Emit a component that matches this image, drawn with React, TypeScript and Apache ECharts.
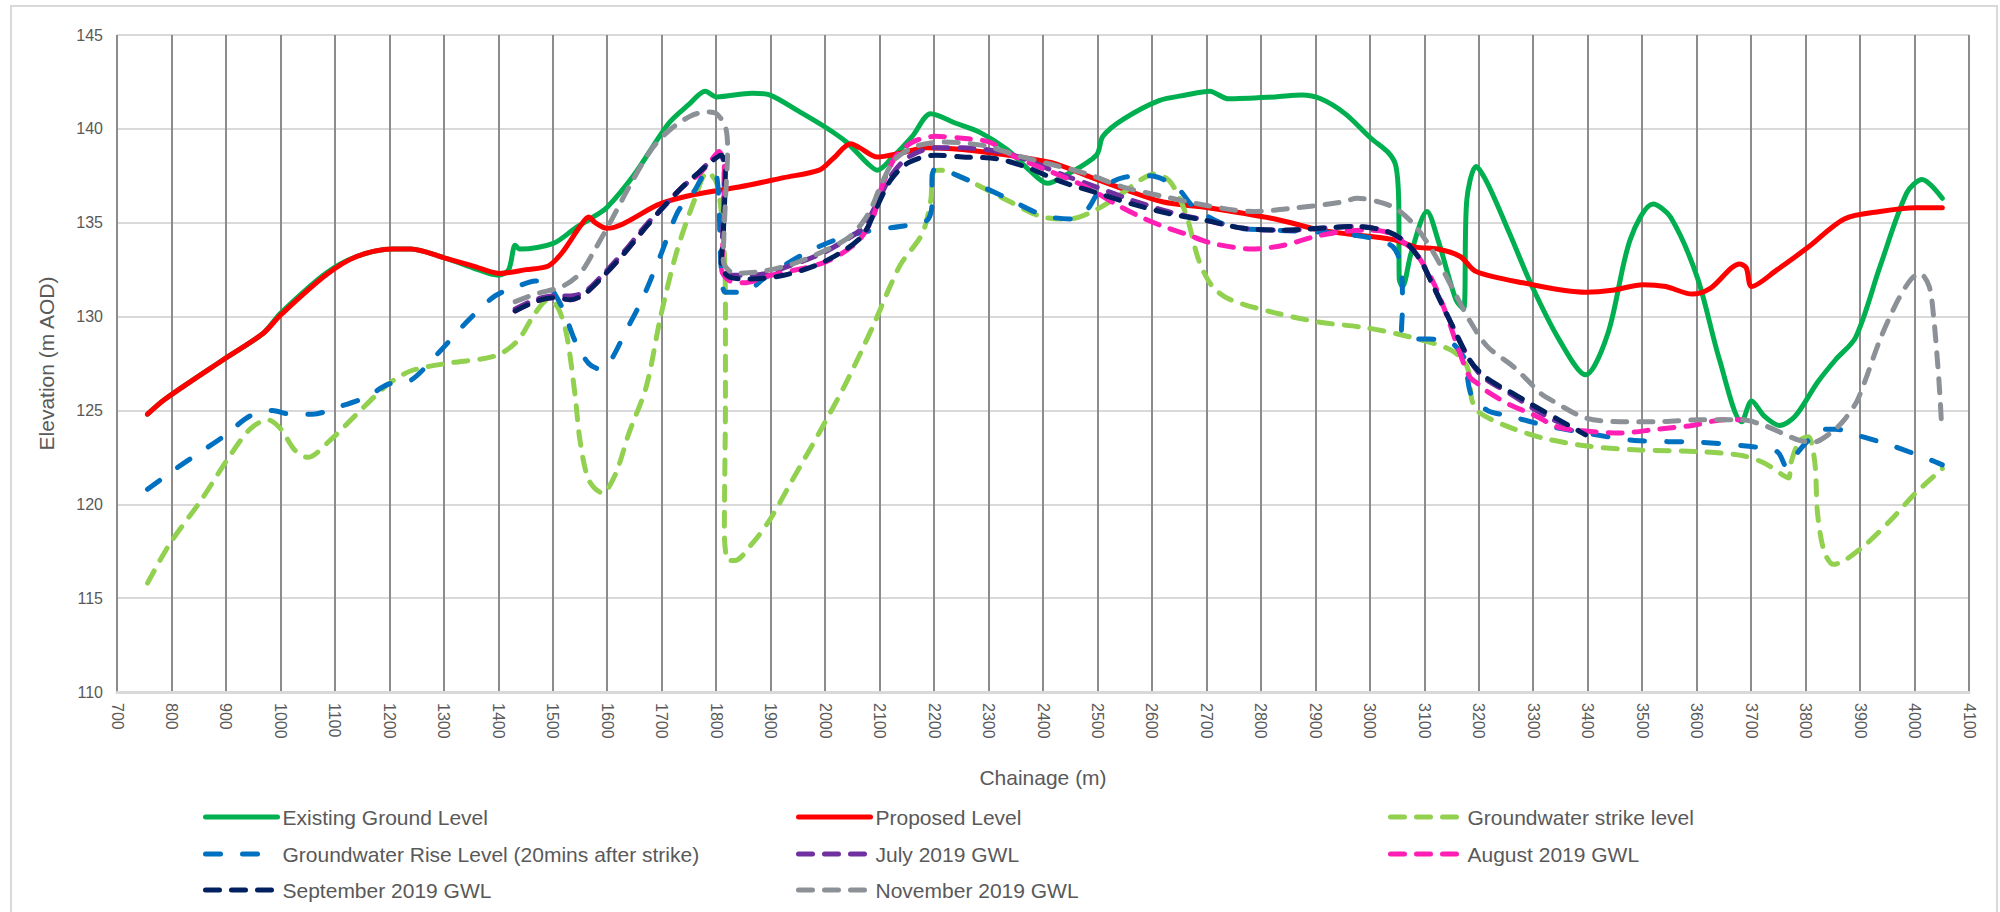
import React, { useEffect, useRef } from "react";
import * as echarts from "echarts";

type P = [number, number];

const seriesNames = [
  "Existing Ground Level",
  "Proposed Level",
  "Groundwater strike level",
  "Groundwater Rise Level (20mins after strike)",
  "July 2019 GWL",
  "August 2019 GWL",
  "September 2019 GWL",
  "November 2019 GWL",
];

const existingGround: P[] = [
  [756, 124.8], [788, 125.6], [895, 127.7], [968, 129.1], [1001, 130.2], [1083, 132.3], [1140, 133.2],
  [1206, 133.6], [1239, 133.6], [1304, 133.1], [1353, 132.6], [1400, 132.2], [1419, 132.5], [1431, 133.8],
  [1439, 133.6], [1501, 133.9], [1541, 134.7], [1574, 135.3], [1599, 135.8], [1648, 137.5], [1713, 140.3],
  [1750, 141.3], [1780, 142.0], [1801, 141.7], [1866, 141.9], [1899, 141.8], [1948, 141.0], [2000, 140.1],
  [2039, 139.3], [2080, 138.1], [2096, 137.8], [2121, 138.4], [2160, 139.6], [2194, 140.8], [2240, 140.3],
  [2285, 139.8], [2334, 138.9], [2375, 137.8], [2408, 137.1], [2440, 137.5], [2498, 138.6], [2510, 139.6],
  [2547, 140.5], [2613, 141.5], [2662, 141.8], [2707, 142.0], [2723, 141.8], [2740, 141.6], [2826, 141.7],
  [2875, 141.8], [2910, 141.6], [2955, 140.8], [3002, 139.5], [3035, 138.7], [3048, 138.0], [3053, 136.2],
  [3054, 132.0], [3060, 131.6], [3076, 133.4], [3105, 135.6], [3125, 134.1], [3158, 130.9], [3172, 130.4],
  [3178, 136.2], [3195, 138.0], [3216, 137.1], [3257, 134.4], [3298, 131.6], [3347, 128.8], [3396, 126.9],
  [3437, 129.1], [3478, 134.1], [3520, 136.0], [3552, 135.3], [3601, 132.1], [3642, 127.7], [3683, 124.4],
  [3701, 125.5], [3724, 124.7], [3752, 124.2], [3781, 124.7], [3822, 126.5], [3855, 127.7], [3892, 128.9],
  [3937, 132.7], [3986, 136.6], [4014, 137.3], [4051, 136.3],
];

const proposedLevel: P[] = [
  [756, 124.8], [788, 125.6], [895, 127.7], [968, 129.1], [1001, 130.1], [1083, 132.2], [1140, 133.2],
  [1206, 133.6], [1239, 133.6], [1304, 133.1], [1353, 132.7], [1402, 132.3], [1451, 132.5], [1492, 132.7],
  [1517, 133.4], [1550, 134.8], [1566, 135.3], [1578, 135.0], [1599, 134.7], [1697, 136.0], [1760, 136.5],
  [1842, 136.9], [1924, 137.4], [1989, 137.8], [2014, 138.4], [2047, 139.2], [2063, 139.0], [2096, 138.5],
  [2137, 138.7], [2186, 139.0], [2252, 138.9], [2334, 138.6], [2416, 138.2], [2481, 137.5], [2547, 136.8],
  [2621, 136.1], [2703, 135.8], [2826, 135.2], [2910, 134.6], [2960, 134.4], [3043, 134.1], [3084, 133.7],
  [3125, 133.6], [3166, 133.2], [3195, 132.4], [3281, 131.8], [3396, 131.3], [3445, 131.4], [3502, 131.7],
  [3543, 131.6], [3592, 131.2], [3625, 131.5], [3679, 132.8], [3691, 132.6], [3701, 131.6], [3748, 132.5],
  [3805, 133.7], [3871, 135.2], [3937, 135.6], [4002, 135.8], [4051, 135.8],
];

const strikeLevel: P[] = [
  [756, 115.8], [797, 117.9], [854, 120.2], [903, 122.4], [944, 124.0], [977, 124.5], [1001, 124.0],
  [1026, 122.9], [1050, 122.5], [1091, 123.4], [1140, 124.8], [1198, 126.4], [1239, 127.1], [1304, 127.5],
  [1394, 127.9], [1435, 128.7], [1468, 130.2], [1492, 130.9], [1509, 130.5], [1525, 129.1], [1541, 125.8],
  [1550, 123.4], [1566, 121.3], [1591, 120.6], [1615, 121.6], [1640, 123.8], [1672, 126.3], [1698, 130.0],
  [1727, 133.4], [1760, 136.2], [1784, 137.7], [1801, 137.1], [1813, 134.4], [1817, 130.8], [1817, 125.6],
  [1815, 118.5], [1822, 117.0], [1834, 117.0], [1866, 117.9], [1899, 119.2], [1940, 121.3], [1989, 123.8],
  [2039, 126.5], [2088, 129.5], [2137, 132.7], [2178, 134.4], [2194, 136.2], [2198, 137.7], [2211, 137.8],
  [2252, 137.4], [2334, 136.2], [2400, 135.3], [2449, 135.2], [2498, 135.7], [2547, 136.6], [2580, 137.3],
  [2604, 137.6], [2633, 137.2], [2662, 135.5], [2686, 133.0], [2711, 131.6], [2744, 130.9], [2826, 130.2],
  [2908, 129.7], [2994, 129.4], [3076, 128.9], [3150, 128.2], [3179, 127.3], [3187, 125.6], [3200, 124.9],
  [3257, 124.1], [3322, 123.5], [3400, 123.1], [3486, 122.9], [3609, 122.8], [3683, 122.6], [3724, 122.2],
  [3756, 121.6], [3769, 121.4], [3773, 122.2], [3789, 123.4], [3805, 123.6], [3817, 122.2], [3822, 119.5],
  [3834, 117.5], [3851, 116.8], [3871, 117.0], [3912, 117.9], [3961, 119.3], [4002, 120.6], [4051, 121.9],
];

const riseLevel: P[] = [
  [756, 120.8], [813, 122.0], [895, 123.6], [944, 124.7], [985, 125.0], [1018, 124.8], [1059, 124.8],
  [1108, 125.2], [1157, 125.7], [1198, 126.4], [1239, 126.6], [1288, 128.0], [1345, 129.8], [1394, 131.1],
  [1435, 131.6], [1468, 131.9], [1488, 131.8], [1517, 130.5], [1541, 128.7], [1566, 127.5], [1587, 127.2],
  [1607, 127.7], [1632, 129.1], [1664, 130.9], [1697, 133.2], [1730, 135.6], [1760, 136.7], [1784, 137.7],
  [1801, 137.5], [1809, 132.7], [1817, 131.3], [1850, 131.3], [1891, 132.1], [1965, 133.4], [2030, 134.2],
  [2088, 134.6], [2137, 134.8], [2186, 135.1], [2196, 135.9], [2196, 137.3], [2203, 137.9], [2252, 137.4],
  [2334, 136.3], [2400, 135.4], [2449, 135.2], [2481, 135.7], [2506, 136.8], [2547, 137.4], [2596, 137.5],
  [2645, 136.9], [2678, 135.8], [2744, 134.8], [2826, 134.6], [2908, 134.5], [3000, 134.2], [3043, 133.7],
  [3058, 132.5], [3060, 130.5], [3058, 129.2], [3080, 128.8], [3109, 128.8], [3150, 128.6], [3175, 127.7],
  [3179, 126.8], [3187, 125.8], [3216, 125.0], [3257, 124.7], [3322, 124.2], [3396, 123.8], [3486, 123.4],
  [3609, 123.3], [3691, 123.1], [3748, 122.8], [3765, 122.0], [3781, 122.6], [3805, 123.4], [3834, 124.0],
  [3855, 124.0], [3904, 123.6], [3961, 123.1], [4035, 122.3], [4051, 122.1],
];

const july2019: P[] = [
  [1431, 130.4], [1468, 130.9], [1501, 131.1], [1533, 131.1], [1558, 131.3], [1591, 132.2], [1632, 133.5],
  [1672, 134.9], [1705, 135.9], [1738, 136.9], [1769, 137.7], [1793, 138.4], [1806, 138.7], [1815, 138.0],
  [1812, 134.4], [1810, 132.6], [1830, 132.2], [1870, 132.2], [1924, 132.6], [1989, 133.3], [2039, 134.1],
  [2071, 134.8], [2096, 136.1], [2121, 137.5], [2153, 138.5], [2203, 139.0], [2252, 139.0], [2317, 138.8],
  [2375, 138.3], [2432, 137.6], [2498, 136.9], [2563, 136.2], [2629, 135.6], [2703, 135.1], [2768, 134.7],
  [2842, 134.6], [2908, 134.7], [2977, 134.8], [3035, 134.5], [3068, 133.9], [3093, 133.0], [3117, 131.6],
  [3150, 129.6], [3183, 127.7], [3207, 126.8], [3257, 125.9], [3330, 124.6], [3396, 123.8],
];

const august2019: P[] = [
  [1431, 130.3], [1468, 130.8], [1501, 131.0], [1533, 130.9], [1558, 131.2], [1591, 132.1], [1632, 133.4],
  [1672, 134.8], [1705, 135.9], [1738, 136.9], [1769, 137.6], [1793, 138.4], [1805, 138.8], [1815, 138.0],
  [1813, 134.4], [1810, 132.5], [1825, 131.9], [1850, 131.8], [1900, 132.2], [2000, 132.9], [2060, 134.0],
  [2088, 135.3], [2104, 136.9], [2129, 138.5], [2161, 139.3], [2203, 139.6], [2252, 139.5], [2301, 139.3],
  [2350, 138.5], [2416, 137.7], [2465, 137.1], [2498, 136.6], [2539, 135.9], [2580, 135.3], [2621, 134.8],
  [2662, 134.4], [2711, 133.9], [2785, 133.6], [2842, 133.8], [2891, 134.2], [2941, 134.5], [2990, 134.6],
  [3030, 134.5], [3060, 134.0], [3084, 133.4], [3117, 131.8], [3142, 130.0], [3166, 128.0], [3183, 126.8],
  [3199, 126.4], [3216, 126.0], [3257, 125.3], [3298, 124.8], [3347, 124.1], [3396, 123.9], [3461, 123.8],
  [3527, 124.0], [3592, 124.2], [3650, 124.5], [3683, 124.5],
];

const september2019: P[] = [
  [1431, 130.3], [1468, 130.8], [1501, 131.0], [1533, 130.9], [1558, 131.2], [1591, 132.1], [1632, 133.4],
  [1672, 134.8], [1705, 135.9], [1738, 136.9], [1769, 137.7], [1793, 138.3], [1809, 138.6], [1817, 138.0],
  [1813, 134.4], [1809, 132.7], [1825, 132.1], [1858, 132.0], [1924, 132.2], [1989, 132.8], [2039, 133.6],
  [2071, 134.4], [2096, 135.9], [2121, 137.3], [2153, 138.2], [2203, 138.6], [2252, 138.5], [2317, 138.4],
  [2375, 137.9], [2432, 137.2], [2498, 136.6], [2563, 136.0], [2629, 135.5], [2703, 135.1], [2768, 134.7],
  [2842, 134.6], [2908, 134.7], [2977, 134.8], [3035, 134.5], [3068, 133.9], [3093, 133.0], [3117, 131.6],
  [3150, 129.6], [3183, 127.7], [3207, 126.9], [3232, 126.4], [3257, 126.0], [3298, 125.3], [3347, 124.5],
  [3396, 123.7],
];

const november2019: P[] = [
  [1431, 130.8], [1468, 131.2], [1517, 131.6], [1550, 132.3], [1574, 133.4], [1607, 135.1], [1640, 136.9],
  [1681, 138.9], [1713, 139.9], [1754, 140.7], [1784, 140.9], [1801, 140.8], [1817, 140.1], [1821, 138.9],
  [1817, 136.2], [1813, 133.0], [1834, 132.3], [1883, 132.4], [1940, 132.8], [2006, 133.6], [2047, 134.3],
  [2080, 135.5], [2104, 137.1], [2129, 138.4], [2170, 139.1], [2219, 139.3], [2293, 139.1], [2350, 138.6],
  [2416, 138.1], [2481, 137.6], [2547, 136.9], [2621, 136.4], [2703, 135.9], [2785, 135.6], [2867, 135.8],
  [2949, 136.1], [2977, 136.3], [3018, 136.1], [3051, 135.7], [3084, 134.8], [3117, 133.4], [3150, 131.6],
  [3183, 129.8], [3216, 128.4], [3265, 127.3], [3314, 125.9], [3330, 125.6], [3396, 124.6], [3461, 124.4],
  [3527, 124.4], [3609, 124.5], [3683, 124.5], [3724, 124.2], [3756, 123.8], [3789, 123.4], [3814, 123.3],
  [3846, 123.8], [3871, 124.5], [3896, 125.6], [3937, 128.8], [3970, 130.9], [3994, 132.0], [4010, 132.3],
  [4027, 131.6], [4035, 130.0], [4043, 127.3], [4047, 125.6], [4050, 124.0],
];

const seriesData: P[][] = [
  existingGround, proposedLevel, strikeLevel, riseLevel, july2019, august2019, september2019, november2019,
];
const seriesColors = ["#00B050", "#FF0000", "#92D050", "#0070C0", "#7030A0", "#FF1FB4", "#002060", "#8C9197"];
const seriesDashes: (number[] | "solid")[] = [
  "solid", "solid", [14, 12], [15, 22], [14, 12], [14, 12], [14, 12], [14, 12],
];

const xMin = 700;
const xMax = 4100;
const xStep = 100;
const yMin = 110;
const yMax = 145;
const yStep = 5;

const FONT = "'Liberation Sans', Arial, sans-serif";
const TEXT = "#595959";

const legendCols = [203, 796, 1388];
const legendRows = [806, 843, 879];

export default function App() {
  const ref = useRef<HTMLDivElement>(null);
  useEffect(() => {
    if (!ref.current) return;
    const chart = echarts.init(ref.current, undefined, { renderer: "svg" });
    const legends = seriesNames.map((name, i) => ({
      data: [name],
      left: legendCols[i % 3],
      top: legendRows[Math.floor(i / 3)],
      padding: 0,
      itemWidth: 72,
      itemHeight: 14,
      itemGap: 0,
      selectedMode: false,
      itemStyle: { opacity: 0 },
      lineStyle: { width: 5, cap: "round", opacity: 1 },
      textStyle: { fontSize: 21, color: TEXT, fontFamily: FONT, lineHeight: 22 },
    }));
    chart.setOption({
      animation: false,
      backgroundColor: "#ffffff",
      textStyle: { fontFamily: FONT },
      graphic: [
        {
          type: "rect",
          shape: { x: 11, y: 6, width: 1986, height: 910 },
          style: { fill: "none", stroke: "#D9D9D9", lineWidth: 2 },
          silent: true,
        },
      ],
      legend: legends,
      grid: { left: 117, right: 31, top: 35, bottom: 220, containLabel: false },
      xAxis: {
        type: "value",
        min: xMin,
        max: xMax,
        interval: xStep,
        name: "Chainage (m)",
        nameLocation: "middle",
        nameGap: 75,
        nameTextStyle: { fontSize: 21, color: TEXT, fontFamily: FONT },
        axisLine: { show: true, lineStyle: { color: "#D9D9D9", width: 3 } },
        axisTick: { show: false },
        axisLabel: {
          rotate: -90,
          fontSize: 16,
          color: TEXT,
          margin: 11,
          fontFamily: FONT,
          formatter: (v: number) => String(v),
        },
        splitLine: { show: true, lineStyle: { color: "#8C8C8C", width: 2 } },
      },
      yAxis: {
        type: "value",
        min: yMin,
        max: yMax,
        interval: yStep,
        name: "Elevation (m AOD)",
        nameLocation: "middle",
        nameRotate: 90,
        nameGap: 60,
        nameTextStyle: { fontSize: 21, color: TEXT, fontFamily: FONT },
        axisLine: { show: false },
        axisTick: { show: false },
        axisLabel: { fontSize: 16, color: TEXT, margin: 14, fontFamily: FONT },
        splitLine: { show: true, lineStyle: { color: "#D9D9D9", width: 2 } },
      },
      series: seriesNames.map((name, i) => ({
        name,
        type: "line",
        data: seriesData[i],
        smooth: 0.3,
        symbol: "none",
        color: seriesColors[i],
        lineStyle: {
          color: seriesColors[i],
          width: 5,
          type: seriesDashes[i],
          cap: "round",
          join: "round",
        },
        z: 2 + i,
      })),
    });
    return () => chart.dispose();
  }, []);
  return (
    <div
      ref={ref}
      style={{ position: "absolute", left: 0, top: 0, width: 2000, height: 912 }}
    />
  );
}
